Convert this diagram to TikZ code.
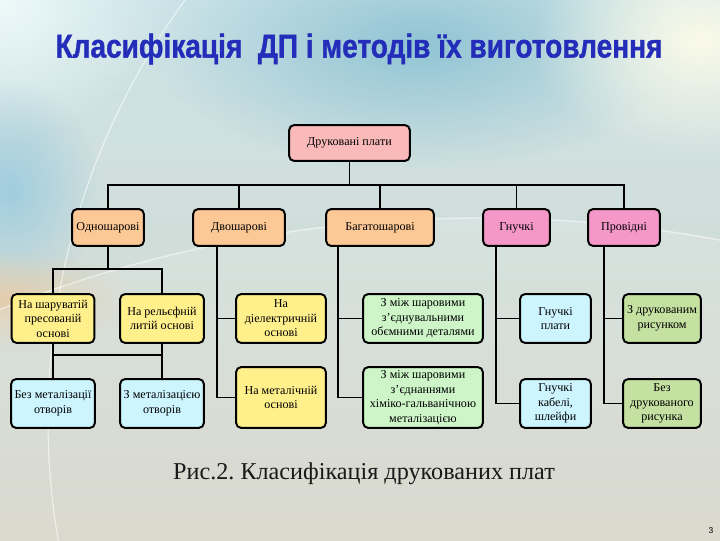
\documentclass[tikz,border=0pt]{standalone}
\usepackage{fontspec}
\usepackage{graphicx}
\setmainfont{Liberation Serif}
\newfontfamily\titlefont{Liberation Sans}[BoldFeatures={FakeBold=1.2}]
\usetikzlibrary{fadings}
\frenchspacing

\definecolor{titleblue}{RGB}{35,45,185}
\definecolor{rootpink}{RGB}{250,186,186}
\definecolor{boxorange}{RGB}{252,200,150}
\definecolor{boxmagenta}{RGB}{245,152,200}
\definecolor{boxyellow}{RGB}{255,240,140}
\definecolor{boxcyan}{RGB}{205,245,255}
\definecolor{boxgreen}{RGB}{205,245,200}
\definecolor{boxolive}{RGB}{196,225,162}
\definecolor{bgtop}{RGB}{205,228,232}
\definecolor{bgbot}{RGB}{213,213,200}
\definecolor{spotteal}{RGB}{145,196,212}
\definecolor{spotcream}{RGB}{250,250,232}
\definecolor{spotwhite}{RGB}{238,250,250}
\definecolor{spotblue}{RGB}{160,205,222}
\definecolor{spottan}{RGB}{228,205,172}

\newcommand{\pxu}{0.7087pt}
\tikzfading[name=softspot, inner color=transparent!0, outer color=transparent!100]

\begin{document}
\begin{tikzpicture}[x=0.025cm, y=-0.025cm,
    box/.style={draw=black, line width=1.4pt, rounded corners=3.5pt, align=center,
      inner sep=1pt, font=\fontsize{8.6}{10.3}\selectfont},
    sz/.style 2 args={minimum width=#1*\pxu, minimum height=#2*\pxu},
    link/.style={draw=black, line width=1.3pt}]
  \useasboundingbox (0,0) rectangle (720,540);

  % background
  \begin{scope}
    \clip (0,0) rectangle (720,540);
    \shade[top color=bgtop, bottom color=bgbot] (0,0) rectangle (720,540);
    \fill[spotteal, path fading=softspot] (420,45) ellipse [x radius=270, y radius=125];
    \fill[spotcream, path fading=softspot] (700,40) ellipse [x radius=170, y radius=120];
    \fill[spotwhite, path fading=softspot] (0,0) ellipse [x radius=160, y radius=140];
    \fill[spotblue, path fading=softspot] (10,190) ellipse [x radius=90, y radius=110];
    \fill[spottan, path fading=softspot] (0,300) ellipse [x radius=140, y radius=50];
    \fill[white, opacity=0.12] (480,1520) circle [radius=1302];
    \draw[white, opacity=0.5, line width=1pt] (480,1520) circle [radius=1302];
    \draw[white, opacity=0.6, line width=0.8pt] (760,420) circle [radius=712];
  \end{scope}

  \node[text=titleblue] (title) at (359,49)
    {\titlefont\bfseries\fontsize{21}{21}\selectfont\scalebox{0.95}[1.12]{Класифікація\ \ ДП і методів їх виготовлення}};

  \begin{scope}[every node/.style={box}]
    \node[fill=rootpink, sz={121}{36}] (root) at (349.5,143) {Друковані плати};
    % first level
    \node[fill=boxorange, sz={72}{37}] (odno) at (108,227.5) {Одношарові};
    \node[fill=boxorange, sz={92}{37}] (dvo) at (239,227.5) {Двошарові};
    \node[fill=boxorange, sz={108}{37}] (bahato) at (380,227.5) {Багатошарові};
    \node[fill=boxmagenta, sz={67}{37}] (hnuch) at (516.5,227.5) {Гнучкі};
    \node[fill=boxmagenta, sz={72}{37}] (prov) at (624,227.5) {Провідні};
    % second level
    \node[fill=boxyellow, sz={83}{49}] (shar) at (53,318.5) {На шаруватій\\пресованій\\основі};
    \node[fill=boxyellow, sz={84}{49}] (rel) at (162,318.5) {На рельєфній\\литій основі};
    \node[fill=boxcyan, sz={84}{49}] (bez) at (53,403.5) {Без металізації\\отворів};
    \node[fill=boxcyan, sz={84}{49}] (zmet) at (162,403.5) {З металізацією\\отворів};
    \node[fill=boxyellow, sz={90}{49}] (diel) at (281,318.5) {На\\діелектричній\\основі};
    \node[fill=boxyellow, sz={90}{61}] (metal) at (281,397.5) {На металічній\\основі};
    \node[fill=boxgreen, sz={120}{49}] (zmizh1) at (423,318.5) {З між шаровими\\з'єднувальними\\обємними деталями};
    \node[fill=boxgreen, sz={120}{61}] (zmizh2) at (423,397.5) {З між шаровими\\з'єднаннями\\хіміко-гальванічною\\металізацією};
    \node[fill=boxcyan, sz={71}{49}] (hplaty) at (555.5,318.5) {Гнучкі\\плати};
    \node[fill=boxcyan, sz={71}{49}] (hkab) at (555.5,403.5) {Гнучкі\\кабелі,\\шлейфи};
    \node[fill=boxolive, sz={78}{49}] (zdruk) at (662,318.5) {З друкованим\\рисунком};
    \node[fill=boxolive, sz={78}{49}] (bezdruk) at (662,403.5) {Без\\друкованого\\рисунка};
  \end{scope}

  \coordinate (bus) at (0,185);
  \coordinate (j1) at (0,269);
  \coordinate (j2) at (0,355);
  \coordinate (t2) at (217,0);
  \coordinate (t3) at (338,0);
  \coordinate (t4) at (496,0);
  \coordinate (t5) at (604,0);

  \begin{scope}[every path/.style={link}]
    \draw (root.south) -- (root.south |- bus);
    \foreach \n in {odno,dvo,bahato,hnuch,prov}
      \draw (root.south |- bus) -| (\n.north);
    \draw (odno.south) -- (odno.south |- j1);
    \draw (odno.south |- j1) -| (shar.north);
    \draw (odno.south |- j1) -| (rel.north);
    \draw (shar.south) -- (bez.north);
    \draw (rel.south) -- (zmet.north);
    \draw (shar.south |- j2) -- (rel.south |- j2);
    \foreach \p/\t/\a/\b in {dvo/t2/diel/metal, bahato/t3/zmizh1/zmizh2,
        hnuch/t4/hplaty/hkab, prov/t5/zdruk/bezdruk} {
      \draw (\p.south -| \t) |- (\a.west);
      \draw (\p.south -| \t) |- (\b.west);
    }
  \end{scope}

  \node[anchor=base, text=black!90] (caption) at (364,479)
    {\fontsize{17.2}{19}\selectfont Рис.2. Класифікація друкованих плат};
  \node[font=\titlefont\fontsize{6}{6}\selectfont] (pagenum) at (711,531) {3};
\end{tikzpicture}
\end{document}
